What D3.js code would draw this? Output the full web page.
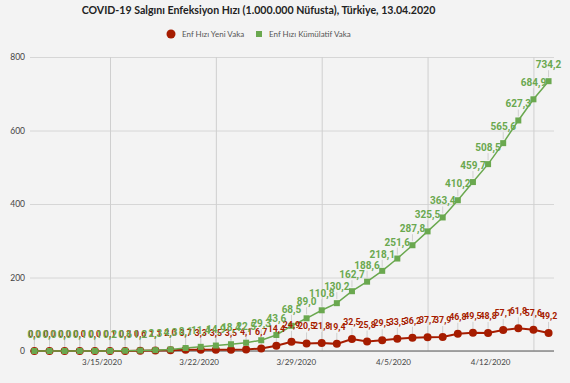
<!DOCTYPE html>
<html><head><meta charset="utf-8">
<script src="https://cdn.jsdelivr.net/npm/d3@7"></script>
<style>
html,body{margin:0;padding:0;background:#f3f3f3;}
svg{display:block;}
</style></head>
<body>
<svg id="chart" width="570" height="383"></svg>
<script>
const title = "COVID-19 Salgını Enfeksiyon Hızı (1.000.000 Nüfusta), Türkiye, 13.04.2020";
const seriesNames = ["Enf Hızı Yeni Vaka", "Enf Hızı Kümülatif Vaka"];
const startDate = "2020-03-10";
const newCases = [0.0,0.0,0.0,0.0,0.0,0.1,0.3,0.6,1.1,2.0,3.7,3.3,3.5,3.5,4.1,6.7,14.4,24.9,20.5,21.8,19.4,32.5,25.8,29.5,33.5,36.2,37.7,37.9,46.8,49.5,48.8,57.1,61.8,57.6,49.2];
const cumulative = [0.0,0.0,0.0,0.1,0.1,0.2,0.6,1.2,2.3,4.3,8.1,11.4,14.9,18.4,22.5,29.3,43.6,68.5,89.0,110.8,130.2,162.7,188.6,218.1,251.6,287.8,325.5,363.4,410.2,459.7,508.5,565.6,627.3,684.9,734.2];
const yTicks = [0,200,400,600,800];
const xTickDates = ["2020-03-15","2020-03-22","2020-03-29","2020-04-05","2020-04-12"];

const red = "#a61c00", green = "#6aa84f";
const parse = d3.timeParse("%Y-%m-%d");
const day = 864e5;
const t0 = parse(startDate);
const dates = newCases.map((_, i) => new Date(t0.getTime() + i * day));
const ticks = xTickDates.map(parse);
const fmt = d3.timeFormat("%-m/%-d/%Y");
const comma = v => v.toFixed(1).replace(".", ",");

const svg = d3.select("#chart");
const L = 30, R = 554, T = 57, B = 351;

const x = d3.scaleTime()
  .domain([new Date(dates[0].getTime() - 0.29 * day), new Date(dates[dates.length - 1].getTime() + 0.36 * day)])
  .range([L, R]);
const xLab = d3.scaleTime().domain(x.domain()).range([28, 509]);
const y = d3.scaleLinear().domain([0, 800]).range([B, T]);

// horizontal grid
svg.append("g").attr("transform", `translate(${L},0)`)
  .call(d3.axisLeft(y).tickValues(yTicks).tickSize(-(R - L)).tickFormat(""))
  .call(g => g.select(".domain").remove())
  .call(g => g.selectAll("line").attr("stroke", "#d6d6d6").attr("stroke-width", 1));
// vertical grid
svg.append("g").attr("transform", `translate(0,${T})`)
  .call(d3.axisBottom(x).tickValues(ticks).tickSize(B - T).tickFormat(""))
  .call(g => g.select(".domain").remove())
  .call(g => g.selectAll("line").attr("stroke", "#cfcfcf").attr("stroke-width", 1));

// y labels
svg.append("g").attr("transform", `translate(${L},0)`)
  .call(d3.axisLeft(y).tickValues(yTicks).tickSize(0).tickPadding(5))
  .call(g => g.select(".domain").remove())
  .call(g => g.selectAll("text").attr("font-family", "Lato, sans-serif").attr("font-size", "8.5px").attr("fill", "#444"));

// x labels
svg.append("g").attr("transform", `translate(0,${B})`)
  .call(d3.axisBottom(xLab).tickValues(ticks).tickSize(0).tickPadding(8).tickFormat(fmt))
  .call(g => g.select(".domain").remove())
  .call(g => g.selectAll("text").attr("font-family", "Lato, sans-serif").attr("font-size", "8px").attr("fill", "#444"));

// baseline
svg.append("line").attr("x1", L).attr("x2", R).attr("y1", y(0)).attr("y2", y(0))
  .attr("stroke", "#888").attr("stroke-width", 1.5);

const lineGen = arr => d3.line().x((d, i) => x(dates[i])).y(d => y(d))(arr);

// leader lines
[newCases, cumulative].forEach(arr => {
  svg.append("g").selectAll("line").data(arr).join("line")
    .attr("x1", (d, i) => x(dates[i])).attr("x2", (d, i) => x(dates[i]))
    .attr("y1", d => y(d) - 4).attr("y2", d => y(d) - 11)
    .attr("stroke", "#d0d0d0").attr("stroke-width", 1);
});

// red series
svg.append("path").attr("d", lineGen(newCases)).attr("fill", "none").attr("stroke", red).attr("stroke-width", 2);
svg.append("g").selectAll("circle").data(newCases).join("circle")
  .attr("cx", (d, i) => x(dates[i])).attr("cy", d => y(d)).attr("r", 4).attr("fill", red);

// green series
svg.append("path").attr("d", lineGen(cumulative)).attr("fill", "none").attr("stroke", green).attr("stroke-width", 1.5);
svg.append("g").selectAll("rect").data(cumulative).join("rect")
  .attr("x", (d, i) => x(dates[i]) - 3).attr("y", d => y(d) - 3).attr("width", 6).attr("height", 6).attr("fill", green);

// labels
svg.append("g").selectAll("text").data(newCases).join("text")
  .attr("x", (d, i) => x(dates[i])).attr("y", d => y(d) - 14)
  .attr("text-anchor", "middle").attr("font-family", "Roboto, sans-serif").attr("font-weight", "bold")
  .attr("font-size", "8.8px").attr("fill", red).text(comma);
svg.append("g").selectAll("text").data(cumulative).join("text")
  .attr("x", (d, i) => x(dates[i])).attr("y", d => y(d) - 13)
  .attr("text-anchor", "middle").attr("font-family", "Roboto, sans-serif").attr("font-weight", "bold")
  .attr("font-size", "10px").attr("fill", green).text(comma);

// title
svg.append("text").attr("x", 258.5).attr("y", 14).attr("text-anchor", "middle")
  .attr("font-family", "Lato, sans-serif").attr("font-weight", "bold").attr("font-size", "10.6px")
  .attr("fill", "#222").text(title);

// legend
const lg = svg.append("g");
lg.append("circle").attr("cx", 171).attr("cy", 34).attr("r", 4.5).attr("fill", red);
lg.append("text").attr("x", 182).attr("y", 37).attr("font-family", "Lato, sans-serif").attr("font-size", "8px").attr("fill", "#555").text(seriesNames[0]);
lg.append("rect").attr("x", 256).attr("y", 31).attr("width", 6).attr("height", 6).attr("fill", green);
lg.append("text").attr("x", 269).attr("y", 37).attr("font-family", "Lato, sans-serif").attr("font-size", "8px").attr("fill", "#555").text(seriesNames[1]);
</script>
</body></html>
